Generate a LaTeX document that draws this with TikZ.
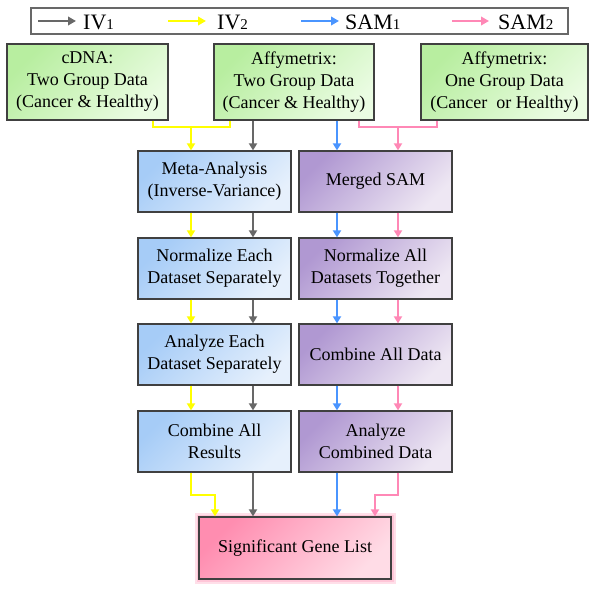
\documentclass[tikz,border=0pt]{standalone}
\usepackage{fontspec}
\setmainfont{Liberation Serif}
\usetikzlibrary{arrows.meta}
\definecolor{cgry}{HTML}{686868}
\definecolor{cylw}{HTML}{FFFF00}
\definecolor{cblu}{HTML}{4A95FF}
\definecolor{cpnk}{HTML}{FF88B6}
\definecolor{bord}{HTML}{404040}
\definecolor{gA}{HTML}{B8EEA0}
\definecolor{gB}{HTML}{EAFCE2}
\definecolor{bA}{HTML}{A6CCF7}
\definecolor{bB}{HTML}{E6F0FC}
\definecolor{pA}{HTML}{B098D2}
\definecolor{pB}{HTML}{EEE7F3}
\definecolor{fA}{HTML}{FF8DB0}
\definecolor{fB}{HTML}{FFDCE6}
\definecolor{glow}{HTML}{FFB8CE}
\tikzset{
  box/.style={draw=bord, line width=1.2pt, align=center, inner sep=0pt,
    font=\fontsize{18}{22}\selectfont, text=black},
  gbox/.style={box, minimum height=76pt, top color=gA, bottom color=gB, shading angle=45},
  bbox/.style={box, minimum width=153pt, minimum height=61pt, top color=bA, bottom color=bB, shading angle=45},
  pbox/.style={box, minimum width=153pt, minimum height=61pt, top color=pA, bottom color=pB, shading angle=45},
  fbox/.style={box, minimum width=192pt, minimum height=62pt, top color=fA, bottom color=fB, shading angle=45,
    preaction={draw=glow!45, line width=9pt, rounded corners=3pt},
    preaction={draw=glow!80, line width=5pt, rounded corners=2pt}},
  conn/.style={line width=2.3pt},
  arr/.style={-{Triangle[width=8pt,length=7pt]}},
  gry/.style={conn, draw=cgry},
  ylw/.style={conn, draw=cylw},
  blu/.style={conn, draw=cblu},
  pnk/.style={conn, draw=cpnk},
  legarr/.style={line width=2.6pt, -{Triangle[width=8.5pt,length=8pt]}},
  legtxt/.style={anchor=west, inner sep=0pt, font=\fontsize{22}{24}\selectfont, text=black}
}
\newcommand{\subd}[1]{{\fontsize{15}{16}\selectfont #1}}
\begin{document}
\begin{tikzpicture}[x=1pt,y=-1pt]
\useasboundingbox[fill=white] (0,0) rectangle (600,591);
% legend
\node[draw=cgry, line width=1.4pt, minimum width=537pt, minimum height=26pt, inner sep=0pt] (leg) at (299.5,21) {};
\coordinate (l1a) at (38,21); \coordinate (l1b) at (76,21);
\coordinate (l2a) at (168,21); \coordinate (l2b) at (206,21);
\coordinate (l3a) at (301,21); \coordinate (l3b) at (339,21);
\coordinate (l4a) at (452,21); \coordinate (l4b) at (489,21);
\draw[legarr, cgry] (l1a) -- (l1b);
\draw[legarr, cylw] (l2a) -- (l2b);
\draw[legarr, cblu] (l3a) -- (l3b);
\draw[legarr, cpnk] (l4a) -- (l4b);
\node[legtxt] (t1) at (83,22) {IV\subd{1}};
\node[legtxt] (t2) at (217,22) {IV\subd{2}};
\node[legtxt] (t3) at (345,22) {SAM\subd{1}};
\node[legtxt] (t4) at (498,22) {SAM\subd{2}};
% data boxes
\node[gbox, minimum width=161pt] (g1) at (87.5,82) {cDNA:\\Two Group Data\\(Cancer \& Healthy)};
\node[gbox, minimum width=160pt] (g2) at (294,82) {Affymetrix:\\Two Group Data\\(Cancer \& Healthy)};
\node[gbox, minimum width=167pt] (g3) at (504.5,82) {Affymetrix:\\One Group Data\\(Cancer\ \ or Healthy)};
% IV column
\node[bbox] (b1) at (214.5,181.5) {Meta-Analysis\\(Inverse-Variance)};
\node[bbox] (b2) at (214.5,268.5) {Normalize Each\\Dataset Separately};
\node[bbox] (b3) at (214.5,354.5) {Analyze Each\\Dataset Separately};
\node[bbox] (b4) at (214.5,441.5) {Combine All\\Results};
% SAM column
\node[pbox] (p1) at (375.5,181.5) {Merged SAM};
\node[pbox] (p2) at (375.5,268.5) {Normalize All\\Datasets Together};
\node[pbox] (p3) at (375.5,354.5) {Combine All Data};
\node[pbox] (p4) at (375.5,441.5) {Analyze\\Combined Data};
% final
\node[fbox] (fin) at (295,548) {Significant Gene List};
% top connectors
\coordinate (jy) at (191,127);
\coordinate (jp) at (398,127);
\draw[ylw] (g1.south -| 153,0) |- (jy) -| (g2.south -| 230,0);
\draw[ylw, arr] (jy) -- (b1.north -| jy);
\draw[gry, arr] (g2.south -| 253,0) -- (b1.north -| 253,0);
\draw[blu, arr] (g2.south -| 337,0) -- (p1.north -| 337,0);
\draw[pnk] (g2.south -| 359,0) |- (jp) -| (g3.south -| 437,0);
\draw[pnk, arr] (jp) -- (p1.north -| jp);
% column connectors
\foreach \a/\b in {b1/b2,b2/b3,b3/b4}{
  \draw[ylw, arr] (\a.south -| 191,0) -- (\b.north -| 191,0);
  \draw[gry, arr] (\a.south -| 253,0) -- (\b.north -| 253,0);
}
\foreach \a/\b in {p1/p2,p2/p3,p3/p4}{
  \draw[blu, arr] (\a.south -| 337,0) -- (\b.north -| 337,0);
  \draw[pnk, arr] (\a.south -| 398,0) -- (\b.north -| 398,0);
}
% final connectors
\coordinate (ky) at (215,495);
\coordinate (kp) at (375,495);
\draw[ylw, arr] (b4.south -| 191,0) |- (ky) -- (fin.north -| ky);
\draw[gry, arr] (b4.south -| 253,0) -- (fin.north -| 253,0);
\draw[blu, arr] (p4.south -| 337,0) -- (fin.north -| 337,0);
\draw[pnk, arr] (p4.south -| 398,0) |- (kp) -- (fin.north -| kp);
\end{tikzpicture}
\end{document}
